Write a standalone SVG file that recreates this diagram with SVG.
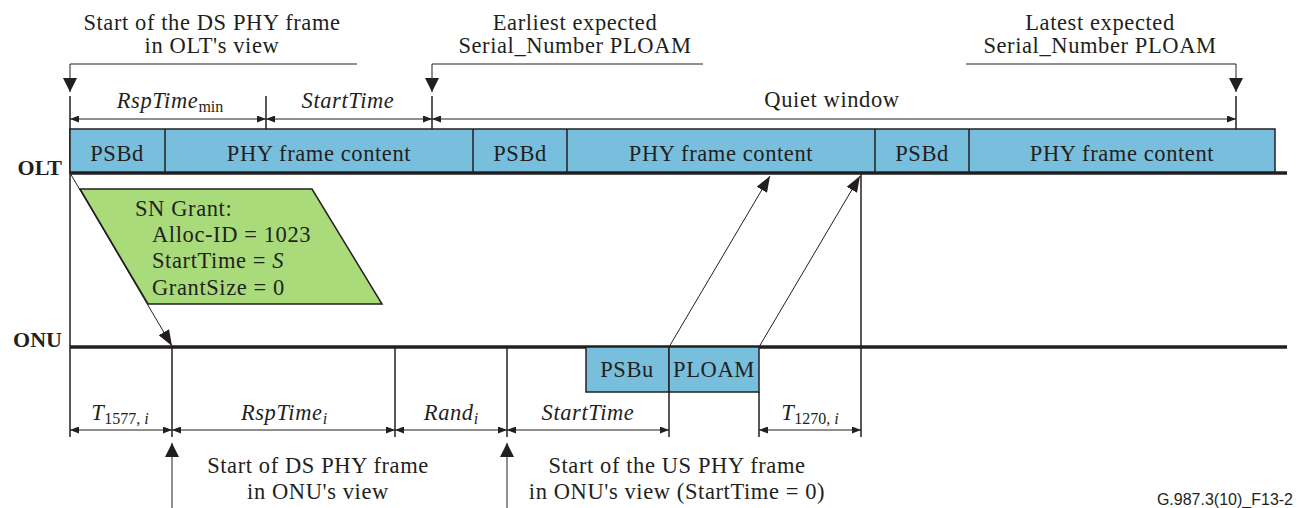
<svg xmlns="http://www.w3.org/2000/svg" width="1306" height="508" viewBox="0 0 1306 508">
<defs>
<style>
text{font-family:"Liberation Serif","Times New Roman",serif;font-size:22.5px;fill:#231f20;letter-spacing:0.6px}
.m{text-anchor:middle}
.i{font-style:italic}
.sub{font-size:16px;font-style:normal;letter-spacing:0}
.sub.i{font-style:italic}
.lbl{font-weight:bold;font-size:22px;text-anchor:end;letter-spacing:0}
.ln{stroke:#231f20;stroke-width:1.5;fill:none}
.bus{stroke:#231f20;stroke-width:3.5;fill:none}
.blue{fill:#78bedd;stroke:#231f20;stroke-width:1.5}
.dim{stroke:#231f20;stroke-width:1;fill:none;marker-start:url(#d);marker-end:url(#d)}
.call{stroke:#231f20;stroke-width:1;fill:none;marker-end:url(#c)}
.sig{stroke:#231f20;stroke-width:1;fill:none;marker-end:url(#s)}
</style>
<marker id="d" markerUnits="userSpaceOnUse" markerWidth="9" markerHeight="7" refX="9" refY="3.5" orient="auto-start-reverse"><path d="M0,0 L9,3.5 L0,7 z" fill="#231f20"/></marker>
<marker id="c" markerUnits="userSpaceOnUse" markerWidth="14" markerHeight="14" refX="14" refY="7" orient="auto"><path d="M0,0 L14,7 L0,14 z" fill="#231f20"/></marker>
<marker id="s" markerUnits="userSpaceOnUse" markerWidth="16" markerHeight="12" refX="16" refY="6" orient="auto"><path d="M0,0 L16,6 L0,12 z" fill="#231f20"/></marker>
</defs>

<g id="callouts">
<path class="call" d="M357,64 H70 V92"/>
<path class="call" d="M703,64 H432 V92"/>
<path class="call" d="M966,64 H1236 V92"/>
<text class="m" x="212" y="30">Start of the DS PHY frame</text>
<text class="m" x="212" y="53">in OLT's view</text>
<text class="m" x="575" y="30">Earliest expected</text>
<text class="m" x="575" y="53">Serial_Number PLOAM</text>
<text class="m" x="1100" y="30">Latest expected</text>
<text class="m" x="1100" y="53">Serial_Number PLOAM</text>
</g>

<g id="ticks">
<path class="ln" d="M70,96 V437"/>
<path class="ln" d="M266,96 V129"/>
<path class="ln" d="M432,96 V129"/>
<path class="ln" d="M1236,96 V129"/>
<path class="ln" d="M861,173 V437"/>
<path class="ln" d="M172,347 V437"/>
<path class="ln" d="M395,347 V437"/>
<path class="ln" d="M507,347 V437"/>
<path class="ln" d="M669,392 V437"/>
<path class="ln" d="M759,392 V437"/>
</g>

<g id="dimensions">
<path class="dim" d="M70,119 H266"/>
<path class="dim" d="M266,119 H432"/>
<path class="dim" d="M432,119 H1236"/>
<text class="m" x="170" y="108"><tspan class="i">RspTime</tspan><tspan class="sub" dy="4">min</tspan></text>
<text class="m i" x="348" y="108">StartTime</text>
<text class="m" x="832" y="107">Quiet window</text>
<path class="dim" d="M70,430 H172"/>
<path class="dim" d="M172,430 H395"/>
<path class="dim" d="M395,430 H507"/>
<path class="dim" d="M507,430 H669"/>
<path class="dim" d="M759,430 H861"/>
<text class="m" x="120" y="420"><tspan class="i">T</tspan><tspan class="sub" dy="4">1577, </tspan><tspan class="sub i">i</tspan></text>
<text class="m" x="284" y="420"><tspan class="i">RspTime</tspan><tspan class="sub i" dy="4">i</tspan></text>
<text class="m" x="451" y="420"><tspan class="i">Rand</tspan><tspan class="sub i" dy="4">i</tspan></text>
<text class="m i" x="588" y="420">StartTime</text>
<text class="m" x="810" y="420"><tspan class="i">T</tspan><tspan class="sub" dy="4">1270, </tspan><tspan class="sub i">i</tspan></text>
</g>

<g id="olt">
<rect class="blue" x="70" y="129" width="1205" height="44"/>
<path class="ln" d="M165,129 V173 M473,129 V173 M567,129 V173 M875,129 V173 M969,129 V173"/>
<path class="bus" d="M70,173 H1287"/>
<text class="lbl" x="62" y="175">OLT</text>
<text class="m" x="117" y="161">PSBd</text>
<text class="m" x="319" y="161">PHY frame content</text>
<text class="m" x="520" y="161">PSBd</text>
<text class="m" x="721" y="161">PHY frame content</text>
<text class="m" x="922" y="161">PSBd</text>
<text class="m" x="1122" y="161">PHY frame content</text>
</g>

<g id="grant">
<polygon points="80,189 312,189 382,304 148,304" fill="#a9db7b" stroke="#231f20" stroke-width="1.5"/>
<text x="135" y="216">SN Grant:</text>
<text x="152" y="242">Alloc-ID = 1023</text>
<text x="152" y="268">StartTime = <tspan class="i">S</tspan></text>
<text x="152" y="295">GrantSize = 0</text>
</g>

<g id="onu">
<path class="bus" d="M70,347 H1287"/>
<text class="lbl" x="62" y="347">ONU</text>
<rect class="blue" x="586" y="347" width="83" height="45"/>
<rect class="blue" x="669" y="347" width="90" height="45"/>
<text class="m" x="627" y="377">PSBu</text>
<text class="m" x="714" y="377">PLOAM</text>
</g>

<g id="connectors">
<path class="sig" d="M70,173 L172,346"/>
<path class="sig" d="M669,347 L770,176"/>
<path class="sig" d="M759,347 L860,176"/>
<path class="call" d="M172,508 V443"/>
<path class="call" d="M507,508 V443"/>
</g>

<g id="bottom-labels">
<text class="m" x="318" y="473">Start of DS PHY frame</text>
<text class="m" x="318" y="499">in ONU's view</text>
<text class="m" x="677" y="473">Start of the US PHY frame</text>
<text class="m" x="677" y="499">in ONU's view (StartTime = 0)</text>
<text x="1293" y="505" style="font-family:'Liberation Sans',Arial,sans-serif;font-size:16px;text-anchor:end;letter-spacing:0">G.987.3(10)_F13-2</text>
</g>
</svg>
